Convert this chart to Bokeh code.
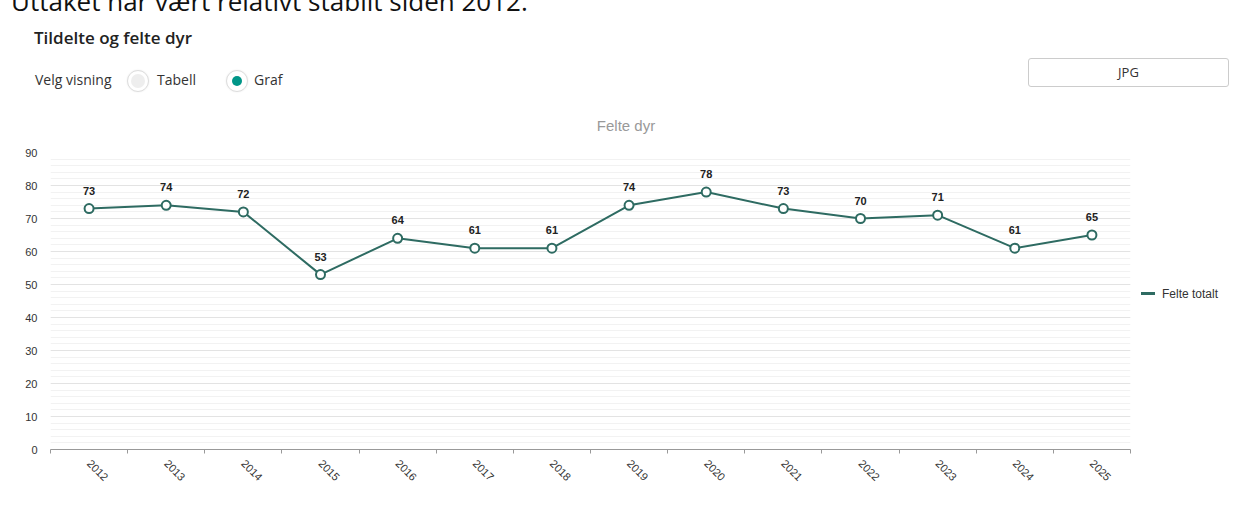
import math
from bokeh.plotting import figure
from bokeh.models import Div, Range1d, FixedTicker, ColumnDataSource
from bokeh.layouts import column, row
from bokeh.embed import file_html
from bokeh.resources import INLINE
from bokeh.core.properties import value

# ---- data ----
years = ["2012", "2013", "2014", "2015", "2016", "2017", "2018",
         "2019", "2020", "2021", "2022", "2023", "2024", "2025"]
felte_totalt = [73, 74, 72, 53, 64, 61, 61, 74, 78, 73, 70, 71, 61, 65]
y_ticks = [0, 10, 20, 30, 40, 50, 60, 70, 80, 90]
y_minor = list(range(0, 91, 2))
chart_title = "Felte dyr"
series_name = "Felte totalt"
heading = "Tildelte og felte dyr"
intro = "Uttaket har vært relativt stabilt siden 2012."

TEAL = "#2e6b62"
FONT = "Liberation Sans"

xs = list(range(len(years)))
src = ColumnDataSource(dict(x=xs, y=felte_totalt, lbl=[str(v) for v in felte_totalt]))

W = 1248
PW = 1135          # figure width
LW = W - PW        # legend column width
H_HEAD = 138
H_FIG = 370

# ---- header (HTML) ----
header_html = f"""
<div style="position:relative;width:{W}px;height:{H_HEAD}px;overflow:hidden;background:#ffffff;font-family:'Open Sans',sans-serif;">
  <div style="position:absolute;left:11px;top:-12px;font-size:26px;line-height:26px;color:#111;white-space:nowrap;">{intro}</div>
  <div style="position:absolute;left:34px;top:29px;font-size:17px;line-height:17px;font-weight:600;color:#222;white-space:nowrap;">{heading}</div>
  <div style="position:absolute;left:35px;top:73px;font-size:14px;line-height:14px;color:#333;white-space:nowrap;">Velg visning</div>
  <div style="position:absolute;left:127px;top:70px;width:22px;height:22px;box-sizing:border-box;border:1px solid #dddddd;border-radius:50%;background:#fff;box-shadow:0 0 2px rgba(0,0,0,0.08);"></div>
  <div style="position:absolute;left:131px;top:74px;width:14px;height:14px;border-radius:50%;background:#eeeeee;"></div>
  <div style="position:absolute;left:157px;top:73px;font-size:14px;line-height:14px;color:#333;white-space:nowrap;">Tabell</div>
  <div style="position:absolute;left:226px;top:70px;width:22px;height:22px;box-sizing:border-box;border:1px solid #dddddd;border-radius:50%;background:#fff;box-shadow:0 0 2px rgba(0,0,0,0.08);"></div>
  <div style="position:absolute;left:232px;top:76px;width:10px;height:10px;border-radius:50%;background:#009688;"></div>
  <div style="position:absolute;left:254px;top:73px;font-size:14px;line-height:14px;color:#333;white-space:nowrap;">Graf</div>
  <div style="position:absolute;left:1028px;top:58px;width:201px;height:29px;box-sizing:border-box;border:1px solid #cccccc;border-radius:3px;background:#fff;text-align:center;font-size:13px;line-height:27px;color:#333;">JPG</div>
  <div style="position:absolute;left:426px;top:118px;width:400px;text-align:center;font-family:'{FONT}',Arial,sans-serif;font-size:15px;line-height:15px;color:#999999;white-space:nowrap;">{chart_title}</div>
</div>
"""
header = Div(text=header_html, width=W, height=H_HEAD, margin=(0, 0, 0, 0))

# ---- legend (HTML, to the right of the plot area) ----
legend_html = f"""
<div style="position:relative;width:{LW}px;height:{H_FIG}px;overflow:hidden;background:#ffffff;">
  <div style="position:absolute;left:6px;top:154px;width:14px;height:3px;background:{TEAL};"></div>
  <div style="position:absolute;left:27px;top:150px;font-family:'{FONT}',Arial,sans-serif;font-size:12px;line-height:12px;color:#333333;white-space:nowrap;">{series_name}</div>
</div>
"""
legend_div = Div(text=legend_html, width=LW, height=H_FIG, margin=(0, 0, 0, 0))

# ---- chart ----
p = figure(width=PW, height=H_FIG,
           x_range=Range1d(-0.5, len(years) - 0.5), y_range=Range1d(0, 90),
           output_backend="svg", toolbar_location=None,
           min_border_left=50, min_border_right=5,
           min_border_top=14, min_border_bottom=59)
p.margin = (0, 0, 0, 0)
p.outline_line_color = None
p.background_fill_color = "white"
p.border_fill_color = "white"

# x axis
p.xaxis.ticker = FixedTicker(ticks=xs, minor_ticks=[i - 0.5 for i in range(len(years) + 1)])
p.xaxis.major_label_overrides = {i: y for i, y in enumerate(years)}
p.xaxis.major_tick_line_color = None
p.xaxis.major_tick_out = 0
p.xaxis.major_tick_in = 0
p.xaxis.minor_tick_line_color = "#999999"
p.xaxis.minor_tick_out = 4
p.xaxis.minor_tick_in = 0
p.xaxis.axis_line_color = "#999999"
p.xaxis.major_label_orientation = -math.pi / 4
p.xaxis.major_label_standoff = 8
p.xaxis.major_label_text_font = FONT
p.xaxis.major_label_text_font_size = "11px"
p.xaxis.major_label_text_color = "#333333"

# y axis
p.yaxis.ticker = FixedTicker(ticks=y_ticks, minor_ticks=y_minor)
p.yaxis.axis_line_color = None
p.yaxis.major_tick_line_color = None
p.yaxis.minor_tick_line_color = None
p.yaxis.major_tick_out = 0
p.yaxis.major_tick_in = 0
p.yaxis.major_label_standoff = 9
p.yaxis.major_label_text_font = FONT
p.yaxis.major_label_text_font_size = "11px"
p.yaxis.major_label_text_color = "#333333"

# grid
p.xgrid.grid_line_color = None
p.ygrid.grid_line_color = "#e3e3e3"
p.ygrid.minor_grid_line_color = "#f2f2f2"

# series
p.line("x", "y", source=src, line_color=TEAL, line_width=2)
p.scatter("x", "y", source=src, size=9, fill_color="white", line_color=TEAL, line_width=2)
p.text("x", "y", text="lbl", source=src, text_align="center", text_baseline="alphabetic",
       y_offset=-18, text_font=value(FONT), text_font_size="11px",
       text_font_style="bold", text_color="#222222")

layout = column(header, row(p, legend_div, spacing=0), spacing=0)

with open("out.html", "w", encoding="utf-8") as f:
    f.write(file_html(layout, INLINE))
